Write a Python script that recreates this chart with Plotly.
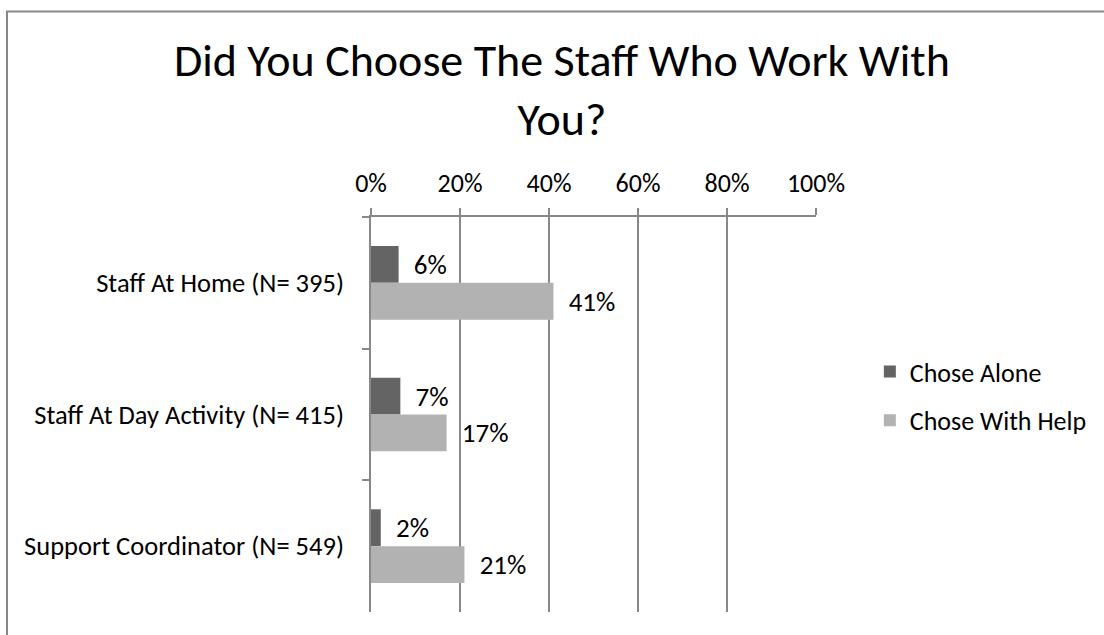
import plotly.graph_objects as go

categories = ["Staff At Home (N= 395)", "Staff At Day Activity (N= 415)", "Support Coordinator (N= 549)"]
series_names = ["Chose Alone", "Chose With Help"]
chose_alone = [6.2, 6.6, 2.2]
chose_with_help = [41.0, 17.0, 21.0]
x_ticks = [0, 20, 40, 60, 80, 100]
x_tick_labels = ["0%", "20%", "40%", "60%", "80%", "100%"]

FONT = "Carlito, Calibri, Lato, sans-serif"
colors = ["#646464", "#b2b2b2"]
GRID = "#888888"

fig = go.Figure()
for name, vals, col in zip(series_names, [chose_alone, chose_with_help], colors):
    fig.add_trace(go.Bar(
        y=categories, x=vals, orientation="h", name=name,
        marker=dict(color=col, line=dict(width=0)),
        text=vals, texttemplate="\u00a0\u00a0%{x:.0f}%",
        textposition="outside", constraintext="none", cliponaxis=False,
        textfont=dict(family=FONT, size=27, color="#000000"),
        legendgroup=name,
    ))

fig.update_layout(
    width=1104, height=635,
    paper_bgcolor="white", plot_bgcolor="white",
    margin=dict(l=371, r=288, t=217, b=23),
    barmode="group", bargap=0.44, bargroupgap=0,
    font=dict(family=FONT, size=26, color="#000000"),
    title=dict(
        text="Did You Choose The Staff Who Work With<br>You?",
        x=0.509, xanchor="center", xref="container",
        y=0.881, yanchor="top", yref="container",
        font=dict(family=FONT, size=46, color="#000000"),
    ),
    showlegend=True,
    legend=dict(
        x=1.121, xanchor="left", y=0.668, yanchor="top",
        font=dict(family=FONT, size=26, color="#000000"),
        traceorder="grouped", tracegroupgap=12,
        bgcolor="rgba(0,0,0,0)",
    ),
    xaxis=dict(
        side="top", range=[0, 100], tickvals=x_ticks, ticktext=x_tick_labels,
        showgrid=True, gridcolor=GRID, gridwidth=1.5,
        showline=True, linecolor=GRID, linewidth=1.5,
        ticks="outside", ticklen=7, tickcolor=GRID, tickwidth=1.5,
        ticklabelstandoff=6, zeroline=False, fixedrange=True,
        tickfont=dict(size=26),
    ),
    yaxis=dict(
        categoryorder="array", categoryarray=categories, autorange="reversed",
        showline=True, linecolor=GRID, linewidth=1.5,
        ticks="outside", ticklen=7, tickcolor=GRID, tickwidth=1.5,
        tickson="boundaries", ticklabelstandoff=20, showgrid=False,
        zeroline=False, fixedrange=True,
        tickfont=dict(size=26.5),
    ),
    shapes=[dict(
        type="rect", xref="paper", yref="paper",
        x0=-0.818, x1=1.9, y0=-0.2, y1=1.520,
        line=dict(color="#878787", width=2), fillcolor="rgba(0,0,0,0)", layer="below",
    )],
)

fig.write_html("out.html", config={"displayModeBar": False},
               post_script="document.body.style.margin='0';")
